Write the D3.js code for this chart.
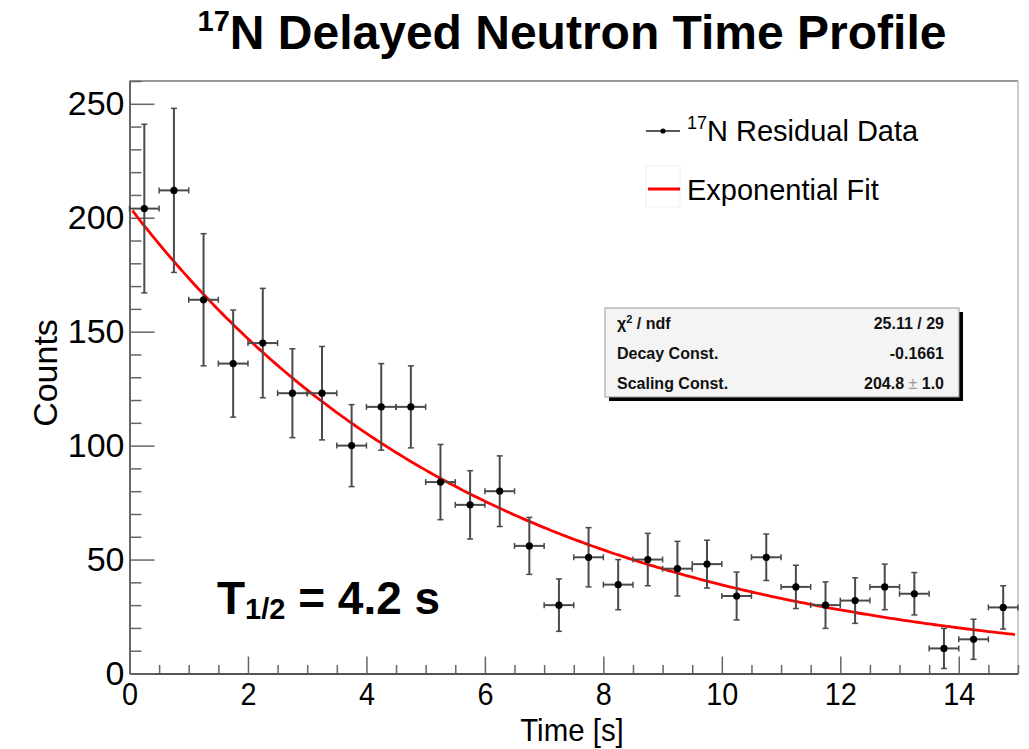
<!DOCTYPE html>
<html>
<head>
<meta charset="utf-8">
<script src="https://cdn.jsdelivr.net/npm/d3@7"></script>
<style>
  html, body { margin: 0; padding: 0; background: #fff; }
  svg { display: block; font-family: "Liberation Sans", Arial, Helvetica, sans-serif; }
  .tick text { font-family: "Liberation Sans", Arial, sans-serif; }
</style>
</head>
<body>
<svg id="chart" width="1029" height="749"></svg>
<script>
// Bin centres (s), residual counts and their uncertainties
const timeBins = [0.25, 0.75, 1.25, 1.75, 2.25, 2.75, 3.25, 3.75, 4.25, 4.75,
                  5.25, 5.75, 6.25, 6.75, 7.25, 7.75, 8.25, 8.75, 9.25, 9.75,
                  10.25, 10.75, 11.25, 11.75, 12.25, 12.75, 13.25, 13.75, 14.25, 14.75];
const counts = [204, 212, 164, 136, 145, 123, 123, 100, 117, 117,
                84, 74, 80, 56, 30, 51, 39, 50, 46, 48,
                34, 51, 38, 30, 32, 38, 35, 11, 15, 29];
const countErr = [37, 36, 29, 23.5, 24, 19.5, 20.5, 18, 19, 18,
                  16.5, 15, 15.5, 12.5, 11.5, 13, 11, 11.5, 12, 10.5,
                  10.5, 10.2, 9.5, 10.2, 10, 10, 9.3, 8.8, 8.8, 9.5];
const binHalfWidth = 0.25;

// Fit parameters: N(t) = scaling * exp(decay * t)
const fitScaling = 204.8;
const fitDecay = -0.1661;
const fitRange = [0.05, 14.95];

const xTickValues = [0, 2, 4, 6, 8, 10, 12, 14];
const yTickValues = [0, 50, 100, 150, 200, 250];
const xDomain = [0, 15];
const yDomain = [0, 260];

const statsRows = [
  ["χ", "2", " / ndf", "25.11 / 29"],
  ["Decay Const.", null, "", "-0.1661"],
  ["Scaling Const.", null, "", "204.8 ± 1.0"]
];

const svg = d3.select("#chart");
const plot = { left: 129.5, right: 1018, top: 81, bottom: 673.5 };

const x = d3.scaleLinear().domain(xDomain).range([plot.left, plot.right]);
const y = d3.scaleLinear().domain(yDomain).range([plot.bottom, plot.top]);

// Frame (top and right edges)
svg.append("line").attr("x1", plot.left).attr("x2", plot.right)
  .attr("y1", plot.top).attr("y2", plot.top)
  .attr("stroke", "#777").attr("stroke-width", 1.5);
svg.append("line").attr("x1", plot.right).attr("x2", plot.right)
  .attr("y1", plot.top).attr("y2", plot.bottom)
  .attr("stroke", "#bbb").attr("stroke-width", 1.5);

// Minor ticks
const xMinor = d3.range(0, 15.01, 0.5).filter(v => !xTickValues.includes(v));
const yMinor = d3.range(0, 260.01, 10).filter(v => !yTickValues.includes(v));

svg.append("g").attr("transform", `translate(0,${plot.bottom})`)
  .call(d3.axisBottom(x).tickValues(xMinor).tickSize(-8.5).tickFormat(""))
  .call(g => g.select(".domain").remove())
  .call(g => g.selectAll(".tick line").attr("stroke", "#666").attr("stroke-width", 1.5));
svg.append("g").attr("transform", `translate(${plot.left},0)`)
  .call(d3.axisLeft(y).tickValues(yMinor).tickSize(-12).tickFormat(""))
  .call(g => g.select(".domain").remove())
  .call(g => g.selectAll(".tick line").attr("stroke", "#666").attr("stroke-width", 1.5));

// Major axes
svg.append("g").attr("transform", `translate(0,${plot.bottom})`)
  .call(d3.axisBottom(x).tickValues(xTickValues).tickSize(-17).tickSizeOuter(0).tickPadding(9))
  .call(g => g.select(".domain").attr("stroke", "#555").attr("stroke-width", 2))
  .call(g => g.selectAll(".tick line").attr("stroke", "#666").attr("stroke-width", 1.5))
  .call(g => g.selectAll(".tick text").attr("font-size", 32).attr("fill", "#000")
    .attr("transform", "scale(0.9,1)"));

svg.append("g").attr("transform", `translate(${plot.left},0)`)
  .call(d3.axisLeft(y).tickValues(yTickValues).tickSize(-25).tickSizeOuter(0).tickPadding(5))
  .call(g => g.select(".domain").attr("stroke", "#666").attr("stroke-width", 2))
  .call(g => g.selectAll(".tick line").attr("stroke", "#666").attr("stroke-width", 1.5))
  .call(g => g.selectAll(".tick text").attr("font-size", 34).attr("fill", "#000"));

// Axis titles
svg.append("text").attr("transform", "translate(572,741) scale(0.92,1)")
  .attr("text-anchor", "middle").attr("font-size", 32).text("Time [s]");
svg.append("text").attr("transform", "translate(57,373) rotate(-90)")
  .attr("text-anchor", "middle").attr("font-size", 34).text("Counts");

// Exponential fit curve
const fitPoints = d3.range(fitRange[0], fitRange[1] + 1e-9, 0.05)
  .map(t => [t, fitScaling * Math.exp(fitDecay * t)]);
svg.append("path").datum(fitPoints)
  .attr("fill", "none").attr("stroke", "#ff0000").attr("stroke-width", 2.8)
  .attr("d", d3.line().x(d => x(d[0])).y(d => y(d[1])));

// Data points with error bars
const data = timeBins.map((t, i) => ({ t, c: counts[i], e: countErr[i] }));
const pts = svg.append("g").selectAll("g").data(data).join("g");
const barColor = "#4a4a4a";
const cap = 3;
pts.append("line")
  .attr("x1", d => x(d.t)).attr("x2", d => x(d.t))
  .attr("y1", d => y(d.c - d.e)).attr("y2", d => y(d.c + d.e))
  .attr("stroke", barColor).attr("stroke-width", 2);
pts.append("line")
  .attr("x1", d => x(d.t - binHalfWidth)).attr("x2", d => x(d.t + binHalfWidth))
  .attr("y1", d => y(d.c)).attr("y2", d => y(d.c))
  .attr("stroke", barColor).attr("stroke-width", 2);
// end caps
[-1, 1].forEach(s => {
  pts.append("line")
    .attr("x1", d => x(d.t) - cap).attr("x2", d => x(d.t) + cap)
    .attr("y1", d => y(d.c + s * d.e)).attr("y2", d => y(d.c + s * d.e))
    .attr("stroke", barColor).attr("stroke-width", 1.5);
  pts.append("line")
    .attr("x1", d => x(d.t + s * binHalfWidth)).attr("x2", d => x(d.t + s * binHalfWidth))
    .attr("y1", d => y(d.c) - cap).attr("y2", d => y(d.c) + cap)
    .attr("stroke", barColor).attr("stroke-width", 1.5);
});
pts.append("circle")
  .attr("cx", d => x(d.t)).attr("cy", d => y(d.c)).attr("r", 3.6)
  .attr("fill", "#000");

// Legend
const legend = svg.append("g");
legend.append("line").attr("x1", 646).attr("x2", 680).attr("y1", 131).attr("y2", 131)
  .attr("stroke", "#222").attr("stroke-width", 1.6);
legend.append("circle").attr("cx", 663).attr("cy", 131).attr("r", 2.6).attr("fill", "#000");
const l1 = legend.append("text").attr("x", 687).attr("y", 141).attr("font-size", 29);
l1.append("tspan").attr("font-size", 18).attr("dy", -12).text("17");
l1.append("tspan").attr("dy", 12).text("N Residual Data");
legend.append("rect").attr("x", 646).attr("y", 166).attr("width", 34).attr("height", 41)
  .attr("fill", "none").attr("stroke", "#f0f0f0").attr("stroke-width", 1);
legend.append("line").attr("x1", 648).attr("x2", 680).attr("y1", 189).attr("y2", 189)
  .attr("stroke", "#ff0000").attr("stroke-width", 3);
legend.append("text").attr("x", 687).attr("y", 200).attr("font-size", 29).text("Exponential Fit");

// Statistics box
const box = { x: 605, y: 308, w: 354, h: 89 };
svg.append("rect").attr("x", box.x + 4).attr("y", box.y + 4)
  .attr("width", box.w).attr("height", box.h).attr("fill", "#000");
svg.append("rect").attr("x", box.x).attr("y", box.y)
  .attr("width", box.w).attr("height", box.h)
  .attr("fill", "#f4f4f4").attr("stroke", "#999").attr("stroke-width", 1);
statsRows.forEach((r, i) => {
  const by = box.y + 21 + i * 30;
  const t = svg.append("text").attr("x", box.x + 12).attr("y", by)
    .attr("font-size", 16).attr("font-weight", "bold").attr("fill", "#111");
  t.append("tspan").text(r[0]);
  if (r[1]) {
    t.append("tspan").attr("font-size", 11).attr("dy", -6).text(r[1]);
    t.append("tspan").attr("dy", 6).text(r[2]);
  }
  const v = svg.append("text").attr("x", box.x + box.w - 15).attr("y", by)
    .attr("text-anchor", "end").attr("font-size", 16).attr("font-weight", "bold").attr("fill", "#111");
  const parts = r[3].split("±");
  if (parts.length === 2) {
    v.append("tspan").text(parts[0]);
    v.append("tspan").attr("fill", "#999").attr("font-weight", "normal").text("±");
    v.append("tspan").text(parts[1]);
  } else {
    v.text(r[3]);
  }
});

// Half-life annotation
const hl = svg.append("text").attr("x", 217).attr("y", 614)
  .attr("font-size", 46).attr("font-weight", "bold");
hl.append("tspan").text("T");
hl.append("tspan").attr("font-size", 29).attr("dy", 5).text("1/2");
hl.append("tspan").attr("dy", -5).text(" = 4.2 s");

// Title
const title = svg.append("text").attr("x", 572).attr("y", 49)
  .attr("text-anchor", "middle").attr("font-size", 48).attr("font-weight", "bold");
title.append("tspan").attr("font-size", 29).attr("dy", -18).text("17");
title.append("tspan").attr("dy", 18).text("N Delayed Neutron Time Profile");
</script>
</body>
</html>
